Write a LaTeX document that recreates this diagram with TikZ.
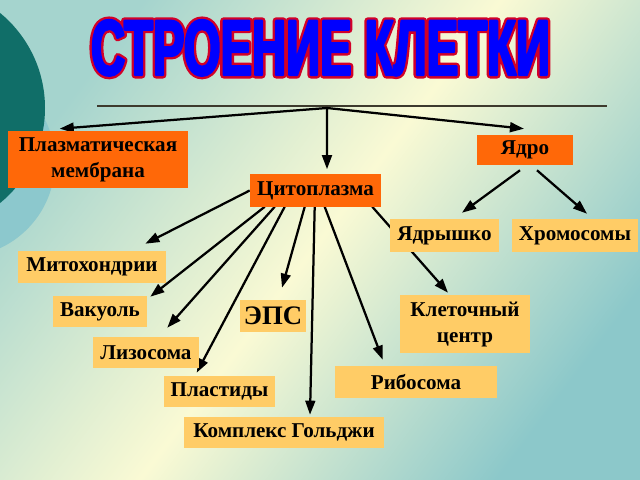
\documentclass[tikz,border=0pt]{standalone}
\usepackage{fontspec}
\setmainfont{Liberation Serif}
\newfontfamily\titlefont{Liberation Sans Bold}[FakeStretch=0.6,FakeBold=3]
\newfontfamily\titlerim{Liberation Sans Bold}[FakeStretch=0.6,FakeBold=9]
\usetikzlibrary{arrows.meta}

\definecolor{bgcyan}{RGB}{165,212,206}
\definecolor{bgyellow}{RGB}{250,250,212}
\definecolor{bgteal}{RGB}{140,200,202}
\definecolor{darkteal}{RGB}{16,110,104}
\definecolor{lightteal}{RGB}{140,200,205}
\definecolor{partorange}{RGB}{255,104,8}
\definecolor{organbeige}{RGB}{255,204,102}
\definecolor{titleblue}{RGB}{0,0,255}
\definecolor{titlered}{RGB}{210,0,40}

\pgfdeclarehorizontalshading{bgdiag}{100bp}{color(0bp)=(bgcyan); color(25bp)=(bgcyan); color(50bp)=(bgyellow); color(75bp)=(bgteal); color(100bp)=(bgteal)}

\pgfdeclarelayer{back}
\pgfdeclarelayer{links}
\pgfsetlayers{back,links,main}

\newcommand\boxfont{\fontsize{15}{18.5}\selectfont\bfseries}
\newcommand\titlesize{\fontsize{56}{60}\selectfont}

\begin{document}
\begin{tikzpicture}[x=0.025cm, y=-0.025cm, line join=round]
        \tikzstyle{part} = [fill=partorange, text=black, font=\boxfont, inner sep=0pt, align=center]
        \tikzstyle{organelle} = [part, fill=organbeige]
        \tikzstyle{edge} = [-{Triangle[length=10pt,width=7pt]}, line width=1.6pt, line join=miter]
        \tikzstyle{heading} = [anchor=base]

        \useasboundingbox (0,0) rectangle (640,480);
        \begin{pgfonlayer}{back}
        \shade[shading=bgdiag, shading angle=-37] (0,0) rectangle (640,480);
        \fill[lightteal] (-40,162) circle (95);
        \fill[darkteal] (-78,108) circle (123);
        \end{pgfonlayer}

        \node[heading, text=titlered, font={\titlerim\titlesize}](title rim) at(320.5, 75) {СТРОЕНИЕ КЛЕТКИ};
        \node[heading, text=titleblue, font={\titlefont\titlesize}](title) at(320.5, 75) {СТРОЕНИЕ КЛЕТКИ};

        \coordinate (rule left) at(97, 106);
        \coordinate (rule right) at(607, 106);
        \coordinate (hub) at(327, 108);

        \node[part, minimum width=4.5cm, minimum height=1.425cm](memb) at(98, 159.5) {Плазматическая\\мембрана};
        \node[part, minimum width=3.275cm, minimum height=0.8cm](cyt) at(315.5, 190.5) {Цитоплазма};
        \node[part, minimum width=2.4cm, minimum height=0.75cm](yadro) at(525, 150) {Ядро};

        \node[organelle, minimum width=3.7cm, minimum height=0.8cm](mito) at(92, 267) {Митохондрии};
        \node[organelle, minimum width=2.35cm, minimum height=0.775cm](vak) at(100, 311.5) {Вакуоль};
        \node[organelle, minimum width=2.65cm, minimum height=0.775cm](liz) at(146, 352.5) {Лизосома};
        \node[organelle, minimum width=2.775cm, minimum height=0.775cm](plast) at(219.5, 391.5) {Пластиды};
        \node[organelle, minimum width=5cm, minimum height=0.775cm](golgi) at(284, 432.5) {Комплекс Гольджи};
        \node[organelle, minimum width=1.65cm, minimum height=0.8cm, font={\fontsize{19}{22}\selectfont\bfseries}](eps) at(273, 316) {ЭПС};
        \node[organelle, minimum width=4.05cm, minimum height=0.8cm](ribo) at(416, 382) {Рибосома};
        \node[organelle, minimum width=3.25cm, minimum height=1.45cm](centr) at(465, 324) {Клеточный\\центр};
        \node[organelle, minimum width=2.725cm, minimum height=0.825cm](yadr) at(444.5, 235.5) {Ядрышко};
        \node[organelle, minimum width=3.15cm, minimum height=0.825cm](chrom) at(575, 235.5) {Хромосомы};

        \begin{pgfonlayer}{links}
        \draw[line width=0.8pt, black!75!olive] (rule left) -- (rule right);
        \draw[edge] (hub) -- ([shift={(52,-2)}]memb.north west);
        \draw[edge] (hub) -- ([shift={(11.5,-5)}]cyt.north);
        \draw[edge] (hub) -- ([shift={(-1,-6)}]yadro.north);

        \draw[edge] (cyt.west) -- ([shift={(-21,-7)}]mito.north east);
        \draw[edge] ([shift={(15,0)}]cyt.south west) -- ([shift={(3,1)}]vak.north east);
        \draw[edge] ([shift={(25,0)}]cyt.south west) -- ([shift={(-32,-9)}]liz.north east);
        \draw[edge] ([shift={(35,0)}]cyt.south west) -- ([shift={(33,-3)}]plast.north west);
        \draw[edge] ([shift={(55,0)}]cyt.south west) -- ([shift={(9,-12)}]eps.north);
        \draw[edge] ([shift={(65,0)}]cyt.south west) -- ([shift={(26,-2)}]golgi.north);
        \draw[edge] ([shift={(75,0)}]cyt.south west) -- ([shift={(48,-6)}]ribo.north west);
        \draw[edge] ([shift={(-9,0)}]cyt.south east) -- ([shift={(-17,-2)}]centr.north);

        \draw[edge] ([shift={(-5,5)}]yadro.south) -- ([shift={(17.5,-6)}]yadr.north);
        \draw[edge] ([shift={(12,5)}]yadro.south) -- ([shift={(12,-5)}]chrom.north);
        \end{pgfonlayer}
    \end{tikzpicture}
\end{document}
